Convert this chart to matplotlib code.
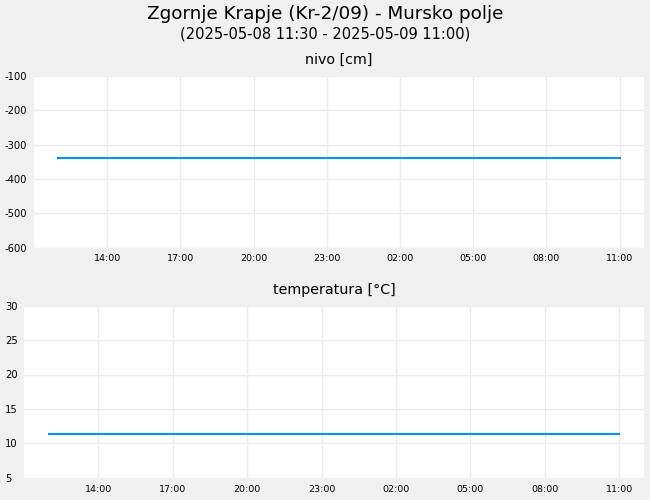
import numpy as np
import matplotlib
matplotlib.use("Agg")
import matplotlib.pyplot as plt
import matplotlib.dates as mdates
from datetime import datetime

plt.rcParams["axes.unicode_minus"] = False

title = "Zgornje Krapje (Kr-2/09) - Mursko polje"
subtitle = "(2025-05-08 11:30 - 2025-05-09 11:00)"

# hourly readings, 2025-05-08 12:00 .. 2025-05-09 11:00
times = ["2025-05-08 12:00", "2025-05-08 13:00", "2025-05-08 14:00", "2025-05-08 15:00",
         "2025-05-08 16:00", "2025-05-08 17:00", "2025-05-08 18:00", "2025-05-08 19:00",
         "2025-05-08 20:00", "2025-05-08 21:00", "2025-05-08 22:00", "2025-05-08 23:00",
         "2025-05-09 00:00", "2025-05-09 01:00", "2025-05-09 02:00", "2025-05-09 03:00",
         "2025-05-09 04:00", "2025-05-09 05:00", "2025-05-09 06:00", "2025-05-09 07:00",
         "2025-05-09 08:00", "2025-05-09 09:00", "2025-05-09 10:00", "2025-05-09 11:00"]
nivo = [-339, -339, -339, -339, -339, -339, -339, -339, -339, -339, -339, -339,
        -339, -339, -339, -339, -339, -339, -339, -339, -339, -339, -339, -339]
temperatura = [11.3, 11.3, 11.3, 11.3, 11.3, 11.3, 11.3, 11.3, 11.3, 11.3, 11.3, 11.3,
               11.3, 11.3, 11.3, 11.3, 11.3, 11.3, 11.3, 11.3, 11.3, 11.3, 11.3, 11.3]
tick_times = ["2025-05-08 14:00", "2025-05-08 17:00", "2025-05-08 20:00", "2025-05-08 23:00",
              "2025-05-09 02:00", "2025-05-09 05:00", "2025-05-09 08:00", "2025-05-09 11:00"]

fmt = "%Y-%m-%d %H:%M"
x = [datetime.strptime(t, fmt) for t in times]
xticks = [datetime.strptime(t, fmt) for t in tick_times]
x_start = datetime(2025, 5, 8, 11, 0)
x_end = datetime(2025, 5, 9, 12, 0)

bg = "#f0f0f0"
grid_c = "#ececec"
line_c = "#0a91ee"

fig = plt.figure(figsize=(6.5, 5), dpi=100, facecolor=bg)
ax1 = fig.add_axes([34 / 650, 1 - 247.5 / 500, 610 / 650, 171.5 / 500])
ax2 = fig.add_axes([24 / 650, 1 - 477.7 / 500, 620 / 650, 172 / 500])

fig.text(0.5, 1 - 14 / 500, title, ha="center", va="center", fontsize=13.2)
fig.text(0.5, 1 - 34 / 500, subtitle, ha="center", va="center", fontsize=10.5)


def style(ax, ylim, yticks, left_px, label):
    ax.set_facecolor("white")
    for s in ax.spines.values():
        s.set_visible(False)
    ax.set_xlim(x_start, x_end)
    ax.set_ylim(*ylim)
    ax.set_yticks(yticks)
    ax.set_xticks(xticks)
    ax.xaxis.set_major_formatter(mdates.DateFormatter("%H:%M"))
    ax.grid(True, color=grid_c, lw=1)
    ax.set_axisbelow(True)
    ax.tick_params(axis="both", length=0)
    ax.tick_params(axis="x", labelsize=6.8, pad=5)
    ax.tick_params(axis="y", labelsize=7.2, pad=(left_px - 5) * 72 / 100)
    for lab in ax.get_yticklabels():
        lab.set_horizontalalignment("left")
    ax.set_title(label, fontsize=10.3, pad=8.5)


style(ax1, (-600, -100), range(-600, -99, 100), 34, "nivo [cm]")
style(ax2, (5, 30), range(5, 31, 5), 24, "temperatura [°C]")

ax1.plot(x, nivo, color=line_c, lw=1.5)
ax2.plot(x, temperatura, color=line_c, lw=1.5)

fig.savefig("out.png", dpi=100, facecolor=bg)
